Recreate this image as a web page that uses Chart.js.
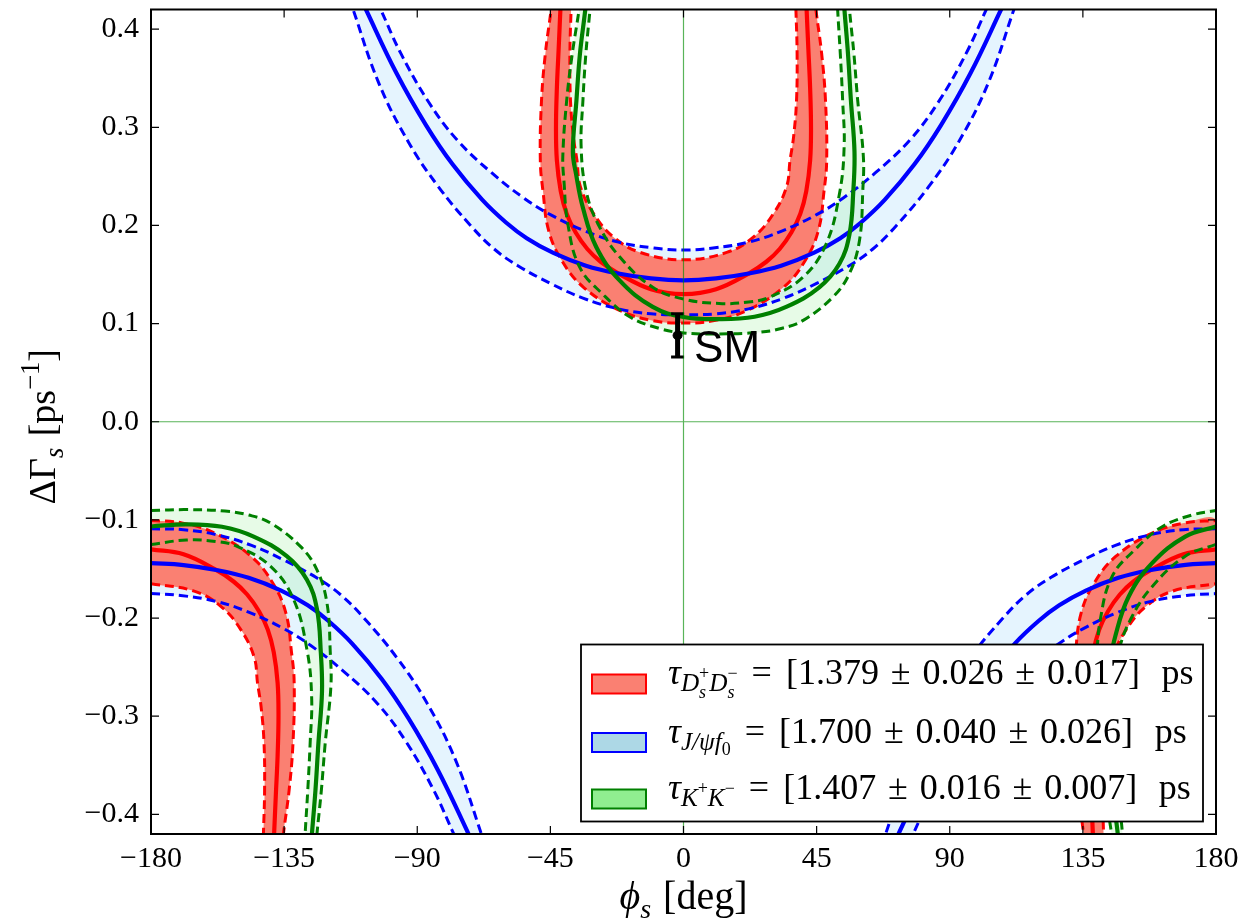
<!DOCTYPE html>
<html>
<head>
<meta charset="utf-8">
<script src="https://cdn.jsdelivr.net/npm/chart.js@4.4.1/dist/chart.umd.min.js"></script>
<style>
  html, body { margin: 0; padding: 0; background: #fff; }
  canvas { display: block; }
</style>
</head>
<body>
<canvas id="chart" width="1247" height="921"></canvas>
<script>
// effective lifetime constraints in the (phi_s, DeltaGamma_s) plane
// every curve is a list of [phi_s (deg), DeltaGamma_s (ps^-1)]
// Mid = central value, Lo / Hi = dashed 1 sigma edges

const xTicks = [-180, -135, -90, -45, 0, 45, 90, 135, 180];
const yTicks = [-0.4, -0.3, -0.2, -0.1, 0, 0.1, 0.2, 0.3, 0.4];

// tau(Ds+ Ds-) : red
const redMidTop = [[-41.5,0.43],[-41.6,0.421],[-42.2,0.38],[-42.8,0.34],[-43.1,0.30],[-42.8,0.266],[-41.5,0.235],[-39.5,0.212],[-36.5,0.193],[-32.5,0.176],[-28,0.163],[-22,0.151],[-11,0.135],[0,0.130],[11,0.135],[22,0.151],[28,0.163],[32.5,0.176],[36.5,0.193],[39.5,0.212],[41.5,0.235],[42.8,0.266],[43.1,0.30],[42.8,0.34],[42.2,0.38],[41.6,0.421],[41.5,0.43]];
const redLoTop = [[-44.5,0.43],[-44.75,0.42],[-46.7,0.375],[-48,0.327],[-48.4,0.266],[-47.5,0.235],[-45.6,0.195],[-41.1,0.164],[-33.8,0.137],[-21.6,0.1135],[-10.4,0.103],[0,0.1006],[10.4,0.103],[21.6,0.1135],[33.8,0.137],[41.1,0.164],[45.6,0.195],[47.5,0.235],[48.4,0.266],[48,0.327],[46.7,0.375],[44.75,0.42],[44.5,0.43]];
const redHiTop = [[-37.9,0.43],[-38,0.42],[-38.4,0.375],[-38.2,0.327],[-37.2,0.29],[-36,0.266],[-34.9,0.24],[-30.4,0.212],[-23.6,0.188],[-14.6,0.1725],[0,0.165],[14.6,0.1725],[23.6,0.188],[30.4,0.212],[34.9,0.24],[36,0.266],[37.2,0.29],[38.2,0.327],[38.4,0.375],[38,0.42],[37.9,0.43]];
const redMidBL = [[-180,-0.13],[-169,-0.135],[-158,-0.151],[-152,-0.163],[-147.5,-0.176],[-143.5,-0.193],[-140.5,-0.212],[-138.5,-0.235],[-137.2,-0.266],[-136.9,-0.3],[-137.2,-0.34],[-137.8,-0.38],[-138.4,-0.421],[-138.5,-0.43]];
const redMidBR = [[138.5,-0.43],[138.4,-0.421],[137.8,-0.38],[137.2,-0.34],[136.9,-0.3],[137.2,-0.266],[138.5,-0.235],[140.5,-0.212],[143.5,-0.193],[147.5,-0.176],[152,-0.163],[158,-0.151],[169,-0.135],[180,-0.13]];
const redLoBL = [[-180,-0.1006],[-169.6,-0.103],[-158.4,-0.1135],[-146.2,-0.137],[-138.9,-0.164],[-134.4,-0.195],[-132.5,-0.235],[-131.6,-0.266],[-132,-0.327],[-133.3,-0.375],[-135.25,-0.42],[-135.5,-0.43]];
const redLoBR = [[135.5,-0.43],[135.25,-0.42],[133.3,-0.375],[132,-0.327],[131.6,-0.266],[132.5,-0.235],[134.4,-0.195],[138.9,-0.164],[146.2,-0.137],[158.4,-0.1135],[169.6,-0.103],[180,-0.1006]];
const redHiBL = [[-180,-0.165],[-165.4,-0.1725],[-156.4,-0.188],[-149.6,-0.212],[-145.1,-0.24],[-144,-0.266],[-142.8,-0.29],[-141.8,-0.327],[-141.6,-0.375],[-142,-0.42],[-142.1,-0.43]];
const redHiBR = [[142.1,-0.43],[142,-0.42],[141.6,-0.375],[141.8,-0.327],[142.8,-0.29],[144,-0.266],[145.1,-0.24],[149.6,-0.212],[156.4,-0.188],[165.4,-0.1725],[180,-0.165]];

// tau(J/psi f0) : blue
const blueMidTop = [[-109,0.431],[-107.5,0.421],[-97,0.355],[-87,0.302],[-78,0.262],[-68,0.226],[-60,0.203],[-53,0.187],[-44,0.172],[-33,0.159],[-22,0.151],[-11,0.146],[0,0.144],[11,0.146],[22,0.151],[33,0.159],[44,0.172],[53,0.187],[60,0.203],[68,0.226],[78,0.262],[87,0.302],[97,0.355],[107.5,0.421],[109,0.431]];
const blueLoTop = [[-113,0.432],[-111.8,0.421],[-103,0.345],[-93,0.285],[-83,0.24],[-72,0.2],[-64,0.176],[-56,0.159],[-45,0.141],[-34,0.126],[-22,0.115],[-11,0.11],[0,0.109],[11,0.11],[22,0.115],[34,0.126],[45,0.141],[56,0.159],[64,0.176],[72,0.2],[83,0.24],[93,0.285],[103,0.345],[111.8,0.421],[113,0.432]];
const blueHiTop = [[-104,0.43],[-102.5,0.421],[-95.5,0.375],[-86,0.325],[-76.5,0.287],[-65,0.254],[-54,0.228],[-45,0.211],[-33,0.194],[-22,0.183],[-10,0.177],[0,0.175],[10,0.177],[22,0.183],[33,0.194],[45,0.211],[54,0.228],[65,0.254],[76.5,0.287],[86,0.325],[95.5,0.375],[102.5,0.421],[104,0.43]];
const blueMidBL = [[-180,-0.144],[-169,-0.146],[-158,-0.151],[-147,-0.159],[-136,-0.172],[-127,-0.187],[-120,-0.203],[-112,-0.226],[-102,-0.262],[-93,-0.302],[-83,-0.355],[-72.5,-0.421],[-71,-0.431]];
const blueMidBR = [[71,-0.431],[72.5,-0.421],[83,-0.355],[93,-0.302],[102,-0.262],[112,-0.226],[120,-0.203],[127,-0.187],[136,-0.172],[147,-0.159],[158,-0.151],[169,-0.146],[180,-0.144]];
const blueLoBL = [[-180,-0.109],[-169,-0.11],[-158,-0.115],[-146,-0.126],[-135,-0.141],[-124,-0.159],[-116,-0.176],[-108,-0.2],[-97,-0.24],[-87,-0.285],[-77,-0.345],[-68.2,-0.421],[-67,-0.432]];
const blueLoBR = [[67,-0.432],[68.2,-0.421],[77,-0.345],[87,-0.285],[97,-0.24],[108,-0.2],[116,-0.176],[124,-0.159],[135,-0.141],[146,-0.126],[158,-0.115],[169,-0.11],[180,-0.109]];
const blueHiBL = [[-180,-0.175],[-170,-0.177],[-158,-0.183],[-147,-0.194],[-135,-0.211],[-126,-0.228],[-115,-0.254],[-103.5,-0.287],[-94,-0.325],[-84.5,-0.375],[-77.5,-0.421],[-76,-0.43]];
const blueHiBR = [[76,-0.43],[77.5,-0.421],[84.5,-0.375],[94,-0.325],[103.5,-0.287],[115,-0.254],[126,-0.228],[135,-0.211],[147,-0.194],[158,-0.183],[170,-0.177],[180,-0.175]];

// tau(K+ K-) : green
const greenMidTop = [[-33,0.43],[-33.2,0.42],[-35,0.375],[-36.2,0.327],[-37.4,0.275],[-36.3,0.252],[-34,0.218],[-29.5,0.178],[-21.6,0.144],[-10.4,0.117],[0,0.1067],[12,0.1045],[24,0.107],[34.7,0.117],[45.9,0.137],[52.7,0.161],[56.1,0.191],[57.4,0.235],[57.8,0.275],[56.6,0.327],[55.6,0.375],[54.4,0.42],[54.2,0.43]];
const greenLoTop = [[-35.1,0.43],[-35.3,0.42],[-37.6,0.375],[-39.5,0.327],[-40.8,0.27],[-40.4,0.245],[-39.1,0.2015],[-35.1,0.1575],[-27.3,0.13],[-18.2,0.107],[-8.1,0.095],[0,0.0905],[12,0.0895],[25,0.091],[33,0.095],[40.3,0.103],[50.5,0.127],[56.1,0.151],[59.5,0.185],[60.6,0.235],[60.8,0.27],[58.9,0.327],[57.6,0.375],[56.1,0.42],[55.9,0.43]];
const greenHiTop = [[-31.4,0.43],[-31.6,0.42],[-33,0.375],[-34,0.327],[-34.6,0.28],[-32.9,0.235],[-28.9,0.2015],[-21.6,0.168],[-10.4,0.137],[0,0.125],[12,0.1205],[22,0.122],[29.1,0.127],[40.3,0.147],[48.2,0.181],[52.7,0.232],[54.3,0.28],[53.8,0.327],[53,0.375],[52.1,0.42],[52,0.43]];
const greenMidBL = [[-180,-0.1067],[-168,-0.1045],[-156,-0.107],[-145.3,-0.117],[-134.1,-0.137],[-127.3,-0.161],[-123.9,-0.191],[-122.6,-0.235],[-122.2,-0.275],[-123.4,-0.327],[-124.4,-0.375],[-125.6,-0.42],[-125.8,-0.43]];
const greenMidBR = [[147,-0.43],[146.8,-0.42],[145,-0.375],[143.8,-0.327],[142.6,-0.275],[143.7,-0.252],[146,-0.218],[150.5,-0.178],[158.4,-0.144],[169.6,-0.117],[180,-0.1067]];
const greenLoBL = [[-180,-0.0905],[-168,-0.0895],[-155,-0.091],[-147,-0.095],[-139.7,-0.103],[-129.5,-0.127],[-123.9,-0.151],[-120.5,-0.185],[-119.4,-0.235],[-119.2,-0.27],[-121.1,-0.327],[-122.4,-0.375],[-123.9,-0.42],[-124.1,-0.43]];
const greenLoBR = [[144.9,-0.43],[144.7,-0.42],[142.4,-0.375],[140.5,-0.327],[139.2,-0.27],[139.6,-0.245],[140.9,-0.2015],[144.9,-0.1575],[152.7,-0.13],[161.8,-0.107],[171.9,-0.095],[180,-0.0905]];
const greenHiBL = [[-180,-0.125],[-168,-0.1205],[-158,-0.122],[-150.9,-0.127],[-139.7,-0.147],[-131.8,-0.181],[-127.3,-0.232],[-125.7,-0.28],[-126.2,-0.327],[-127,-0.375],[-127.9,-0.42],[-128,-0.43]];
const greenHiBR = [[148.6,-0.43],[148.4,-0.42],[147,-0.375],[146,-0.327],[145.4,-0.28],[147.1,-0.235],[151.1,-0.2015],[158.4,-0.168],[169.6,-0.137],[180,-0.125]];

// standard model point with error
const smPoint = [-2, 0.088];
const smErr = 0.022;

const FONT = '"Liberation Serif", "DejaVu Serif", serif';
const RED = '#ff0000', BLUE = '#0000ff', GREEN = '#008000';
Chart.defaults.font.family = FONT;

const pts = a => a.map(p => ({x: p[0], y: p[1]}));

function curve(data, color, dashed, order) {
  return {
    data: pts(data), showLine: true, fill: false,
    borderColor: color, borderWidth: dashed ? 3 : 4.2, borderDash: dashed ? [9, 5] : [],
    pointRadius: 0, tension: 0.4, clip: 0, order
  };
}
// closed band: outer edge, then inner edge backwards
function band(hi, lo, color, order) {
  return {
    data: pts(lo.concat(hi.slice().reverse())), showLine: true, fill: 'shape',
    backgroundColor: color, borderColor: 'transparent', borderWidth: 0,
    pointRadius: 0, tension: 0.4, clip: 0, order
  };
}

const datasets = [];
function addSet(mids, los, his, color, bandColor, bandOrder, lineOrder) {
  for (let i = 0; i < mids.length; i++) {
    datasets.push(band(his[i], los[i], bandColor, bandOrder));
    datasets.push(curve(los[i], color, true, lineOrder));
    datasets.push(curve(his[i], color, true, lineOrder));
    datasets.push(curve(mids[i], color, false, lineOrder));
  }
}
addSet([blueMidTop, blueMidBL, blueMidBR], [blueLoTop, blueLoBL, blueLoBR], [blueHiTop, blueHiBL, blueHiBR],
  BLUE, 'rgba(135,206,250,0.22)', 9, 5);
addSet([greenMidTop, greenMidBL, greenMidBR], [greenLoTop, greenLoBL, greenLoBR], [greenHiTop, greenHiBL, greenHiBR],
  GREEN, 'rgba(144,238,144,0.22)', 8, 4);
addSet([redMidTop, redMidBL, redMidBR], [redLoTop, redLoBL, redLoBR], [redHiTop, redHiBL, redHiBR],
  RED, '#fa8072', 7, 6);

// SM error bar and point
datasets.push({
  data: pts([[smPoint[0], smPoint[1] - smErr], [smPoint[0], smPoint[1] + smErr]]),
  showLine: true, borderColor: '#000', borderWidth: 5, pointStyle: 'line',
  pointRadius: 6.5, pointBorderWidth: 3, pointBorderColor: '#000', order: 1
});
datasets.push({
  data: pts([smPoint]), pointRadius: 4.5, pointBackgroundColor: '#000', pointBorderColor: '#000', order: 0
});

// rich text with sub / superscripts, returns the width
function rich(ctx, parts, x, y, size, draw = true) {
  let cx = x, last = 0;
  for (const p of parts) {
    if (p.gap) { cx += p.gap * size; last = 0; continue; }
    const s = size * (p.s || 1);
    ctx.font = (p.it ? 'italic ' : '') + s + 'px ' + FONT;
    const w = ctx.measureText(p.t).width;
    if (p.stack) cx -= last;
    if (draw) ctx.fillText(p.t, cx, y + (p.dy || 0) * size);
    if (p.stack) { const m = Math.max(last, w); cx += m; last = m; }
    else { cx += w; last = w; }
  }
  return cx - x;
}

const xTitle = [{t: 'ϕ', it: 1}, {t: 's', it: 1, s: .7, dy: .22}, {gap: .3}, {t: '[deg]'}];
const yTitle = [{t: 'ΔΓ'}, {t: 's', it: 1, s: .7, dy: .22}, {gap: .3}, {t: '[ps'}, {t: '−1', s: .7, dy: -.42}, {t: ']'}];

const eq = [{gap: .39}, {t: '='}, {gap: .39}];
const pm = [{gap: .33}, {t: '±'}, {gap: .33}];
const legendRows = [
  {fill: '#fa8072', edge: RED, parts: [
    {t: 'τ', it: 1}, {t: 'D', it: 1, s: .7, dy: .2}, {t: '+', s: .5, dy: -.15}, {t: 's', it: 1, s: .5, dy: .38, stack: 1},
    {t: 'D', it: 1, s: .7, dy: .2}, {t: '−', s: .5, dy: -.15}, {t: 's', it: 1, s: .5, dy: .38, stack: 1},
    ...eq, {t: '[1.379'}, ...pm, {t: '0.026'}, ...pm, {t: '0.017]'}, {gap: .6}, {t: 'ps'}]},
  {fill: '#add8e6', edge: BLUE, parts: [
    {t: 'τ', it: 1}, {t: 'J/ψf', it: 1, s: .7, dy: .2}, {t: '0', s: .5, dy: .35},
    ...eq, {t: '[1.700'}, ...pm, {t: '0.040'}, ...pm, {t: '0.026]'}, {gap: .6}, {t: 'ps'}]},
  {fill: '#90ee90', edge: GREEN, parts: [
    {t: 'τ', it: 1}, {t: 'K', it: 1, s: .7, dy: .2}, {t: '+', s: .5, dy: -.15}, {t: 'K', it: 1, s: .7, dy: .2}, {t: '−', s: .5, dy: -.15},
    ...eq, {t: '[1.407'}, ...pm, {t: '0.016'}, ...pm, {t: '0.007]'}, {gap: .6}, {t: 'ps'}]}
];

const decor = {
  id: 'decor',
  afterDatasetsDraw(chart) {
    const {ctx, chartArea: a, scales: {x, y}} = chart;
    const x0 = x.getPixelForValue(0), y0 = y.getPixelForValue(0);
    ctx.save();
    ctx.strokeStyle = 'rgba(0,140,0,0.65)';
    ctx.lineWidth = 1.2;
    ctx.beginPath();
    ctx.moveTo(x0, a.top); ctx.lineTo(x0, a.bottom);
    ctx.moveTo(a.left, y0); ctx.lineTo(a.right, y0);
    ctx.stroke();
    ctx.restore();
  },
  afterDraw(chart) {
    const {ctx, chartArea: a, scales: {x, y}} = chart;
    ctx.save();
    // ticks pointing in, all four sides
    ctx.strokeStyle = '#000';
    ctx.lineWidth = 1.2;
    ctx.beginPath();
    xTicks.forEach(v => {
      const px = x.getPixelForValue(v);
      ctx.moveTo(px, a.bottom); ctx.lineTo(px, a.bottom - 8);
      ctx.moveTo(px, a.top); ctx.lineTo(px, a.top + 8);
    });
    yTicks.forEach(v => {
      const py = y.getPixelForValue(v);
      ctx.moveTo(a.left, py); ctx.lineTo(a.left + 8, py);
      ctx.moveTo(a.right, py); ctx.lineTo(a.right - 8, py);
    });
    ctx.stroke();
    // frame
    ctx.lineWidth = 2;
    ctx.strokeRect(a.left, a.top, a.right - a.left, a.bottom - a.top);

    // axis titles
    ctx.fillStyle = '#000';
    ctx.textBaseline = 'alphabetic';
    ctx.textAlign = 'left';
    let w = rich(ctx, xTitle, 0, 0, 40, false);
    rich(ctx, xTitle, (a.left + a.right) / 2 - w / 2, 909, 40);
    ctx.save();
    ctx.translate(55, y.getPixelForValue(0) + 5);
    ctx.rotate(-Math.PI / 2);
    w = rich(ctx, yTitle, 0, 0, 38, false);
    rich(ctx, yTitle, -w / 2, 0, 38);
    ctx.restore();

    // SM label
    ctx.font = '44px "Liberation Sans", Arial, sans-serif';
    ctx.fillText('SM', x.getPixelForValue(smPoint[0]) + 16.5, y.getPixelForValue(smPoint[1]) + 27);

    // legend
    const lx = a.right - 635, ly = a.bottom - 189.5, lw = 622, lh = 177;
    ctx.fillStyle = '#fff';
    ctx.fillRect(lx, ly, lw, lh);
    ctx.strokeStyle = '#000';
    ctx.lineWidth = 1.8;
    ctx.strokeRect(lx, ly, lw, lh);
    const rowY = [39.5, 98, 154.5];
    legendRows.forEach((r, i) => {
      const cy = ly + rowY[i];
      ctx.fillStyle = r.fill;
      ctx.strokeStyle = r.edge;
      ctx.lineWidth = 2;
      ctx.fillRect(lx + 11, cy - 9.5, 54, 19);
      ctx.strokeRect(lx + 11, cy - 9.5, 54, 19);
      ctx.fillStyle = '#000';
      rich(ctx, r.parts, lx + 87, cy, 36);
    });
    ctx.restore();
  }
};

const fmt = v => (v < 0 ? '\u2212' : '') + Math.abs(v);
const noPad = s => { s.paddingTop = 0; s.paddingBottom = 0; s.paddingLeft = 0; s.paddingRight = 0; };

new Chart(document.getElementById('chart'), {
  type: 'scatter',
  data: {datasets},
  options: {
    responsive: false,
    animation: false,
    layout: {padding: {left: 0, right: 31, top: 8, bottom: 0}},
    elements: {line: {capBezierPoints: false}},
    plugins: {legend: {display: false}, tooltip: {enabled: false}},
    scales: {
      x: {
        type: 'linear', min: -180, max: 180,
        afterBuildTicks: s => { s.ticks = xTicks.map(v => ({value: v})); },
        afterFit: s => { s.height = 87; noPad(s); },
        grid: {display: false, drawTicks: false},
        border: {display: false},
        ticks: {color: '#000', font: {family: FONT, size: 30}, padding: 7, maxRotation: 0, autoSkip: false, callback: fmt}
      },
      y: {
        type: 'linear', min: -0.42, max: 0.42,
        afterBuildTicks: s => { s.ticks = yTicks.map(v => ({value: v})); },
        afterFit: s => { s.width = 151; noPad(s); },
        grid: {display: false, drawTicks: false},
        border: {display: false},
        ticks: {color: '#000', font: {family: FONT, size: 30}, padding: 12, autoSkip: false,
          callback: v => (v < 0 ? '\u2212' : '') + Math.abs(v).toFixed(1)}
      }
    }
  },
  plugins: [decor]
});
</script>
</body>
</html>
